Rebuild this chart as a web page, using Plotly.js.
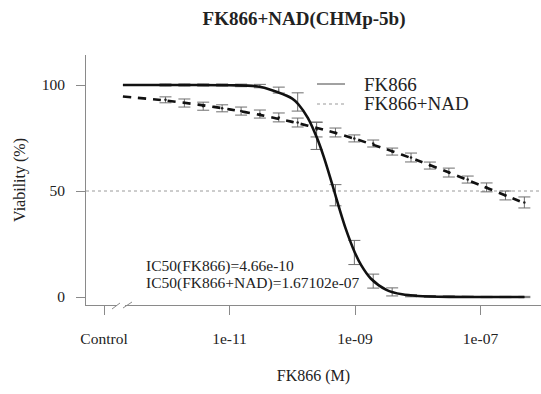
<!DOCTYPE html>
<html>
<head>
<meta charset="utf-8">
<script src="https://cdn.plot.ly/plotly-3.0.1.min.js"></script>
<style>
html,body{margin:0;padding:0;background:#fff;}
#chart{width:541px;height:394px;}
</style>
</head>
<body>
<div id="chart"></div>
<script>
// Dose (M) of the measured points
const conc = [9.54e-13, 1.91e-12, 3.81e-12, 7.63e-12, 1.53e-11, 3.05e-11, 6.10e-11, 1.22e-10, 2.44e-10, 4.88e-10,
              9.77e-10, 1.95e-9, 3.91e-9, 7.81e-9, 1.56e-8, 3.13e-8, 6.25e-8, 1.25e-7, 2.5e-7, 5e-7];
// FK866 alone: mean viability (%) and error
const fkMean = [100, 100, 100, 100, 99.8, 99.5, 97.6, 92, 76, 48, 21, 7.5, 2.4, 0.6, 0.3, 0.2, 0.1, 0, 0, 0];
const fkErr  = [0.5, 0.5, 0.5, 0.5, 0.6, 0.8, 1.4, 4.3, 6.4, 5, 5.7, 3.3, 1.9, 0.5, 0.4, 0.3, 0.3, 0.3, 0.3, 0.3];
// FK866 + NAD: mean viability (%) and error
const nadMean = [93, 91.5, 90, 89, 87.7, 86.3, 84.7, 82.3, 79, 77.6, 74.8, 72.4, 68.6, 65.8, 62, 58.7, 55.4, 51.7, 47.9, 44.6];
const nadErr  = [1.4, 1.9, 1.9, 1.65, 1.9, 1.9, 2.1, 2.1, 3.5, 2.1, 1.65, 1.65, 1.65, 2.1, 1.65, 2.1, 1.65, 2.1, 2.1, 2.6];

// Fitted curve FK866
const fkCurveX = [2e-13, 1e-12, 1e-11, 3.16e-11, 1e-10, 1.26e-10, 1.78e-10, 2.51e-10, 3.16e-10, 3.98e-10, 4.66e-10,
                  5.62e-10, 7.08e-10, 1e-9, 1.26e-9, 1.78e-9, 3.16e-9, 5.62e-9, 1e-8, 3.16e-8, 5e-7];
const fkCurveY = [100, 100, 99.9, 99.1, 93.6, 90.8, 84.4, 74.6, 66.3, 56.8, 50,
                  41.8, 32.4, 20.8, 14.9, 8.75, 3.4, 1.26, 0.47, 0.06, 0];
// Fitted curve FK866+NAD
const nadCurveX = [2e-13, 1e-12, 3.16e-12, 1e-11, 3.16e-11, 1e-10, 3.16e-10, 1e-9, 3.16e-9, 1e-8, 3.16e-8, 1e-7, 3.16e-7, 5e-7];
const nadCurveY = [94.6, 92.6, 90.75, 88.5, 85.8, 82.6, 78.9, 74.6, 69.7, 64.4, 58.7, 52.7, 46.7, 44.3];

const tickVals = [1e-13, 1e-11, 1e-9, 1e-7];
const tickText = ['Control', '1e-11', '1e-09', '1e-07'];
const yTicks = [0, 50, 100];

const legendNames = ['FK866', 'FK866+NAD'];
const ic50Text = ['IC50(FK866)=4.66e-10', 'IC50(FK866+NAD)=1.67102e-07'];

const FONT = 'Liberation Serif, Times New Roman, serif';
const TXT = '#222';
const AX = '#8a8a8a';

// pixel helpers for decoration placement
const L = 86, T = 55, W = 455, H = 250;
const px = v => (v - L) / W;
const py = v => (T + H - v) / H;

const traces = [
  {x: conc, y: fkMean, type: 'scatter', mode: 'markers', showlegend: false,
   marker: {size: 1, color: '#333'},
   error_y: {type: 'data', array: fkErr, visible: true, color: '#6e6e6e', thickness: 1, width: 6}},
  {x: conc, y: nadMean, type: 'scatter', mode: 'markers', showlegend: false,
   marker: {size: 2.5, color: '#222'},
   error_y: {type: 'data', array: nadErr, visible: true, color: '#6e6e6e', thickness: 1, width: 6}},
  {x: fkCurveX, y: fkCurveY, type: 'scatter', mode: 'lines', name: legendNames[0], showlegend: false,
   line: {color: '#111', width: 2.6, shape: 'spline', smoothing: 0.8}},
  {x: nadCurveX, y: nadCurveY, type: 'scatter', mode: 'lines', name: legendNames[1], showlegend: false,
   line: {color: '#111', width: 2.6, dash: '8px,7px', shape: 'spline', smoothing: 0.8}}
];

const layout = {
  width: 541, height: 394,
  margin: {l: L, r: 541 - L - W, t: T, b: 394 - T - H, pad: 0},
  paper_bgcolor: '#fff', plot_bgcolor: '#fff',
  font: {family: FONT, color: TXT, size: 15.5},
  showlegend: false,
  title: {text: '<b>FK866+NAD(CHMp-5b)</b>', font: {family: FONT, size: 19, color: TXT},
          x: 304 / 541, xanchor: 'center', y: 1 - 18 / 394, yanchor: 'middle'},
  xaxis: {type: 'log', range: [-13.287, -6.036], showgrid: false, zeroline: false,
          showline: true, linecolor: AX, linewidth: 1,
          tickmode: 'array', tickvals: tickVals, ticktext: tickText,
          ticks: 'outside', ticklen: 9, tickcolor: AX, tickwidth: 1,
          ticklabelstandoff: 10,
          tickfont: {family: FONT, size: 15.5, color: TXT},
          title: {text: 'FK866 (M)', font: {family: FONT, size: 16, color: TXT}, standoff: 24}},
  yaxis: {range: [-3.77, 114.15], showgrid: false, zeroline: false,
          showline: true, linecolor: AX, linewidth: 1,
          tickmode: 'array', tickvals: yTicks,
          ticks: 'outside', ticklen: 9, tickcolor: AX, tickwidth: 1,
          ticklabelstandoff: 8,
          tickfont: {family: FONT, size: 15.5, color: TXT},
          title: {text: 'Viability (%)', font: {family: FONT, size: 16, color: TXT}, standoff: 12}},
  shapes: [
    // reference line at 50%
    {type: 'line', xref: 'paper', yref: 'y', x0: 0, x1: 1, y0: 50, y1: 50,
     line: {color: '#9a9a9a', width: 1, dash: 'dot'}, layer: 'below'},
    // axis break
    {type: 'rect', xref: 'paper', yref: 'paper', x0: px(117), x1: px(125), y0: py(307), y1: py(303),
     fillcolor: '#fff', line: {width: 0}, layer: 'above'},
    {type: 'line', xref: 'paper', yref: 'paper', x0: px(112), y0: py(309), x1: px(120), y1: py(303),
     line: {color: AX, width: 1}, layer: 'above'},
    {type: 'line', xref: 'paper', yref: 'paper', x0: px(123), y0: py(308), x1: px(132), y1: py(302),
     line: {color: AX, width: 1}, layer: 'above'},
    // legend samples
    {type: 'line', xref: 'paper', yref: 'paper', x0: px(317), x1: px(345), y0: py(84), y1: py(84),
     line: {color: '#444', width: 1}},
    {type: 'line', xref: 'paper', yref: 'paper', x0: px(317), x1: px(345), y0: py(104), y1: py(104),
     line: {color: '#999', width: 1, dash: 'dot'}}
  ],
  annotations: [
    {xref: 'paper', yref: 'paper', x: px(362), y: py(84), xanchor: 'left', yanchor: 'middle',
     text: legendNames[0], showarrow: false, font: {family: FONT, size: 19, color: TXT}},
    {xref: 'paper', yref: 'paper', x: px(362), y: py(104), xanchor: 'left', yanchor: 'middle',
     text: legendNames[1], showarrow: false, font: {family: FONT, size: 19, color: TXT}},
    {xref: 'paper', yref: 'paper', x: px(144), y: py(265.5), xanchor: 'left', yanchor: 'middle',
     text: ic50Text[0], showarrow: false, font: {family: FONT, size: 15.5, color: TXT}},
    {xref: 'paper', yref: 'paper', x: px(144), y: py(282.5), xanchor: 'left', yanchor: 'middle',
     text: ic50Text[1], showarrow: false, font: {family: FONT, size: 15.5, color: TXT}}
  ]
};

Plotly.newPlot('chart', traces, layout, {displayModeBar: false, staticPlot: true});
</script>
</body>
</html>
